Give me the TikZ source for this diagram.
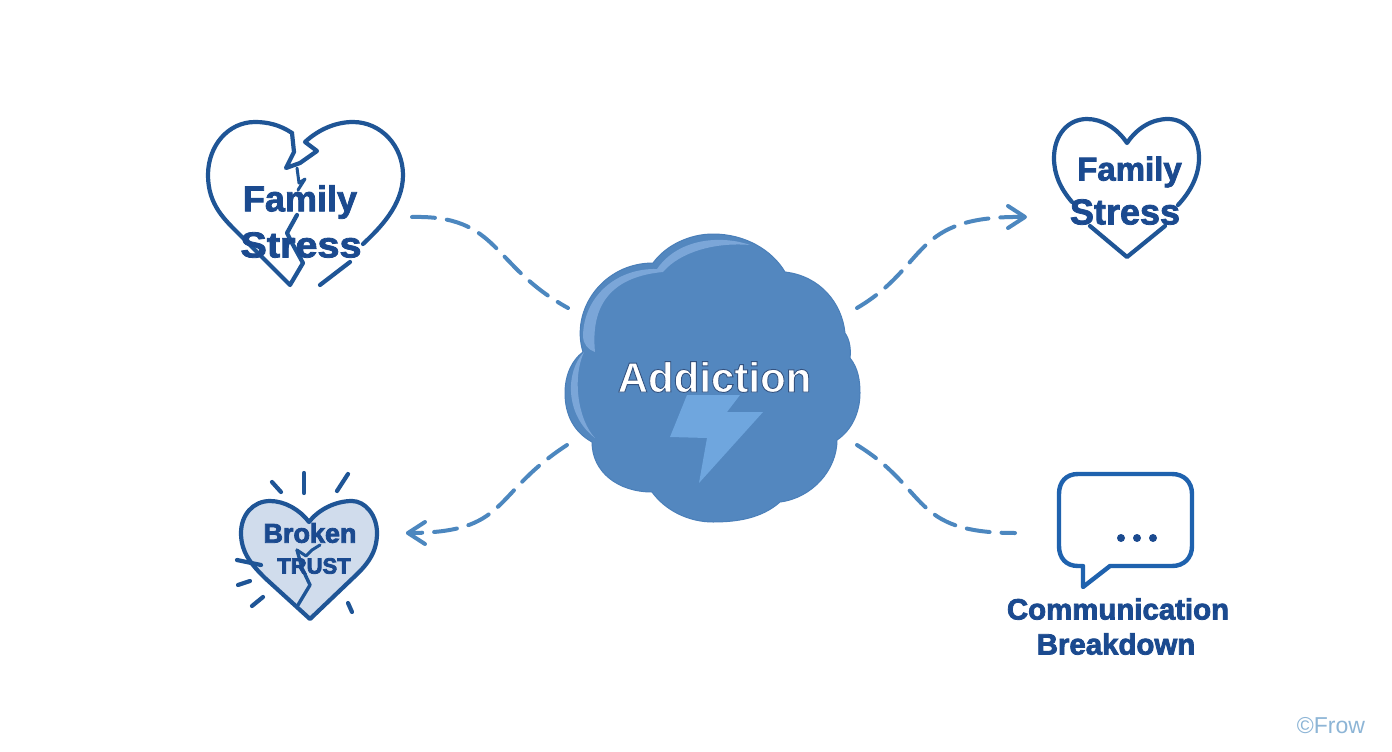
\documentclass[tikz,border=0pt]{standalone}
\usepackage{fontspec}
\setmainfont{Liberation Sans}
\usetikzlibrary{arrows.meta}
\definecolor{navy}{HTML}{1B4A8F}
\definecolor{heartline}{HTML}{1F5596}
\definecolor{bubbleline}{HTML}{1F62AE}
\definecolor{cloudfill}{HTML}{5387BF}
\definecolor{cloudedge}{HTML}{4A7FB9}
\definecolor{cloudlight}{HTML}{7BA6D8}
\definecolor{boltfill}{HTML}{6FA6DE}
\definecolor{linkblue}{HTML}{4C87BF}
\definecolor{heartfill}{HTML}{D0DCEC}
\definecolor{markblue}{HTML}{8DB5D6}
\newcommand{\labelfont}[1]{\fontsize{#1}{#1}\selectfont\bfseries}
\newcommand{\outlined}[1]{\special{pdf:code 0.20 0.32 0.50 RG 0.9 w 2 Tr}#1\special{pdf:code 0 Tr}}
\newcommand{\heavy}[1]{\special{pdf:code 0.106 0.29 0.56 RG 0.8 w 2 Tr}#1\special{pdf:code 0 Tr}}
\tikzset{
  x=1pt,y=-1pt,
  heartstroke/.style={draw=heartline,line width=4.2pt,line cap=round,line join=round},
  raystroke/.style={draw=heartline,line width=4.2pt,line cap=round},
  linkcurve/.style={draw=linkblue,line width=4pt,line cap=round,dash pattern=on 23pt off 12pt},
  linkhead/.style={draw=linkblue,line width=4pt,line cap=round,line join=round},
  lab/.style={inner sep=0pt,text=navy,align=center},
}
\begin{document}
\begin{tikzpicture}
\useasboundingbox (0,0) rectangle (1392,752);
\fill[white] (0,0) rectangle (1392,752);

% cloud
\path[fill=cloudfill,draw=cloudedge,line width=1pt]
  (653,263) .. controls (666,245) and (690,234) .. (713,234)
  .. controls (745,234) and (772,250) .. (785,272)
  .. controls (820,276) and (842,303) .. (845,333)
  .. controls (850,340) and (851,350) .. (850,358)
  .. controls (858,368) and (860,380) .. (860,393)
  .. controls (860,412) and (852,430) .. (837,440)
  .. controls (837,470) and (812,498) .. (780,502)
  .. controls (762,518) and (738,522) .. (713,522)
  .. controls (688,522) and (665,510) .. (652,492)
  .. controls (618,492) and (592,472) .. (592,442)
  .. controls (574,432) and (565,415) .. (565,393)
  .. controls (565,375) and (572,360) .. (583,352)
  .. controls (570,310) and (603,263) .. (653,263) -- cycle;
% highlights
\fill[cloudlight]
  (750,245) .. controls (725,236) and (680,236) .. (657,269)
  .. controls (615,268) and (583,298) .. (583,337)
  .. controls (583,343) and (588,350) .. (595,352)
  .. controls (592,320) and (598,278) .. (663,272)
  .. controls (680,252) and (715,242) .. (750,245) -- cycle;
\fill[cloudlight]
  (584,352) .. controls (565,372) and (565,415) .. (595,438)
  .. controls (578,420) and (572,378) .. (584,352) -- cycle;

% bolt
\fill[boltfill] (687,395) -- (670,437) -- (707,438) -- (699,483) -- (763,412) -- (727,412) -- (740,395) -- cycle;
\node[lab,text=white] (addiction) at (714.5,377) {\labelfont{42}\outlined{Addiction}};

% top-left broken heart
\draw[heartstroke] (292,133) .. controls (280,125) and (268,122) .. (255,122)
  .. controls (228,122) and (208,146) .. (208,175)
  .. controls (208,205) and (225,220) .. (240,235)
  -- (290,285) -- (303,263) -- (292,243) -- (287,233) -- (297,215);
\draw[heartstroke] (292,133) -- (294,152) -- (286,168) -- (300,163) -- (317,151) -- (305,142)
  .. controls (318,130) and (335,122) .. (353,122)
  .. controls (381,122) and (403,146) .. (403,175)
  .. controls (403,205) and (380,228) .. (363,244);
\draw[heartstroke,line width=3pt] (297,168) -- (299,183) -- (305,179) -- (298,190);
\draw[heartstroke] (350,262) -- (320,285);
\node[lab] (familyA) at (300,202) {\labelfont{36}\heavy{Family}};
\node[lab] (stressA) at (301,245) {\labelfont{36}\scalebox{1.1}[1]{\heavy{Stress}}};

% top-right heart
\draw[heartstroke] (1072,202) .. controls (1060,188) and (1054,174) .. (1054,158)
  .. controls (1054,135) and (1068,119) .. (1087,119)
  .. controls (1102,119) and (1117,128) .. (1127,143)
  .. controls (1137,128) and (1152,119) .. (1168,119)
  .. controls (1186,119) and (1199,135) .. (1199,158)
  .. controls (1199,174) and (1192,190) .. (1178,205);
\draw[heartstroke] (1090,226) -- (1127,257) -- (1165,226);
\node[lab] (familyB) at (1129.5,172) {\labelfont{33}\heavy{Family}};
\node[lab] (stressB) at (1125,212) {\labelfont{36}\heavy{Stress}};

% bottom-left heart
\path[fill=heartfill,heartstroke] (309,522)
  .. controls (300,510) and (285,501) .. (270,501)
  .. controls (253,501) and (241,515) .. (241,533)
  .. controls (241,553) and (252,565) .. (265,578)
  -- (310,619) -- (353,578)
  .. controls (367,565) and (377,553) .. (377,533)
  .. controls (377,515) and (365,501) .. (352,501)
  .. controls (335,501) and (318,510) .. (309,522) -- cycle;
\draw[heartstroke,line width=3.4pt] (298,605) -- (310,585) -- (302,568) -- (297,550);
\draw[heartstroke,line width=3pt] (297,550) -- (306,556) -- (312,550) -- (320,545);
\draw[raystroke] (304,473) -- (304,493);
\draw[raystroke] (348,474) -- (337,491);
\draw[raystroke] (272,482) -- (281,492);
\draw[raystroke] (237,560) -- (261,565);
\draw[raystroke] (238,585) -- (250,581);
\draw[raystroke] (252,606) -- (263,597);
\draw[raystroke] (348,603) -- (352,612);
\node[lab] (broken) at (310,533) {\labelfont{27}\heavy{Broken}};
\node[lab] (trust) at (314,566) {\labelfont{22}\heavy{TRUST}};

% speech bubble
\draw[draw=bubbleline,line width=4.4pt,line join=round]
  (1083,566) -- (1078,566) .. controls (1066,566) and (1059,558) .. (1059,546)
  -- (1059,494) .. controls (1059,482) and (1066,474) .. (1078,474)
  -- (1172,474) .. controls (1184,474) and (1192,482) .. (1192,494)
  -- (1192,546) .. controls (1192,558) and (1184,566) .. (1172,566)
  -- (1110,566) -- (1083,587) -- cycle;
\fill[navy] (1121,538) circle (4) (1137,538) circle (4) (1153,538) circle (4);
\node[lab] (comm) at (1118,609) {\labelfont{29.4}\heavy{Communication}};
\node[lab] (breakdown) at (1116,644) {\labelfont{29.4}\heavy{Breakdown}};

% connectors
\coordinate (a1) at (412,217); \coordinate (a2) at (568,308);
\coordinate (b1) at (857,308); \coordinate (b2) at (1025,217);
\coordinate (c1) at (567,445); \coordinate (c2) at (408,533);
\coordinate (d1) at (857,445); \coordinate (d2) at (1015,533);
\draw[linkcurve] (a1) .. controls (500,215) and (490,265) .. (a2);
\draw[linkcurve] (b1) .. controls (930,265) and (910,215) .. (b2);
\draw[linkcurve] (c1) .. controls (490,495) and (510,533) .. (c2);
\draw[linkcurve] (d1) .. controls (930,490) and (910,533) .. (d2);
\draw[linkhead] (1008,206) -- (b2) -- (1008,228);
\draw[linkhead] (425,522) -- (c2) -- (425,544);

\node[inner sep=0pt,text=markblue] (mark) at (1331,726) {\fontsize{23}{23}\selectfont ©Frow};
\end{tikzpicture}
\end{document}
